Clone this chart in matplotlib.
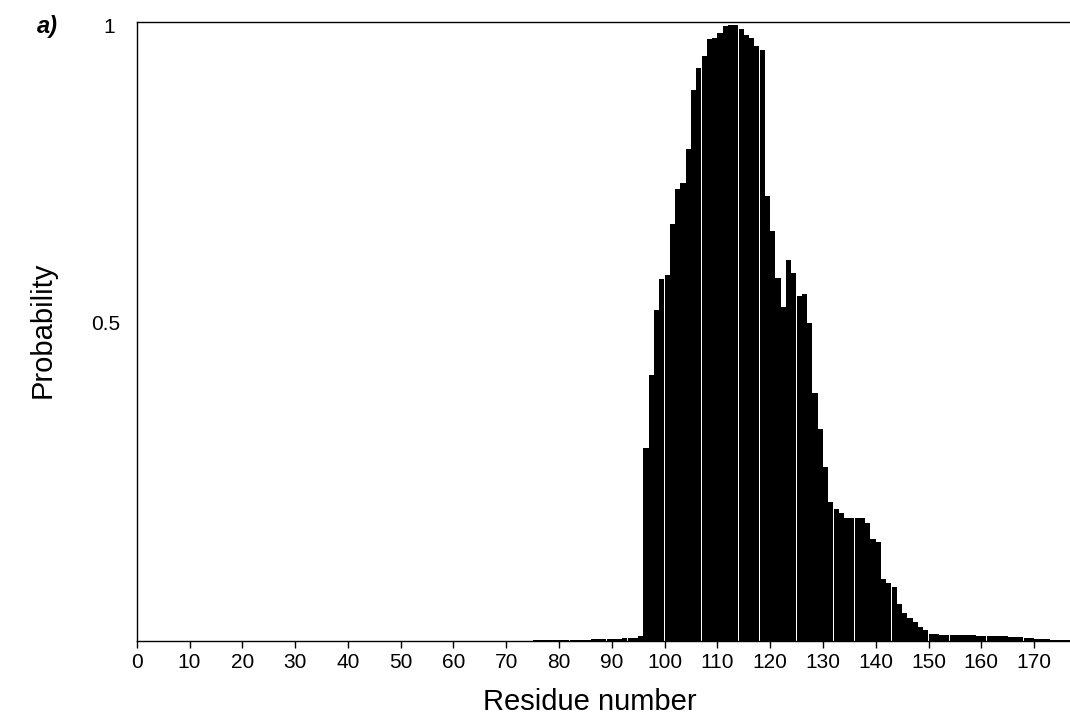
import matplotlib
matplotlib.use("Agg")
import matplotlib.pyplot as plt
from matplotlib.transforms import ScaledTranslation

plt.rcParams["font.family"] = ["Liberation Sans", "DejaVu Sans"]

# Per-residue probability (residues before 75 are zero)
residue = list(range(75, 177))
probability = [
    0.0008, 0.0008, 0.0008, 0.0008, 0.0008, 0.0008, 0.0008,          # 75-81
    0.0018, 0.0018, 0.0019, 0.0019, 0.002, 0.002, 0.0021, 0.0022, 0.0024,  # 82-90
    0.0035, 0.004, 0.0042, 0.005, 0.007,                              # 91-95
    0.311, 0.430, 0.534, 0.584, 0.591, 0.673, 0.729, 0.739, 0.794,    # 96-104
    0.890, 0.926, 0.945, 0.972, 0.973, 0.981, 0.993, 0.995, 0.995,    # 105-113
    0.988, 0.978, 0.973, 0.961, 0.954, 0.719, 0.662, 0.586, 0.539,    # 114-122
    0.615, 0.594, 0.557, 0.560, 0.513, 0.400, 0.342, 0.280, 0.224,    # 123-131
    0.212, 0.207, 0.198, 0.198, 0.198, 0.198, 0.190, 0.164, 0.159,    # 132-140
    0.099, 0.093, 0.086, 0.060, 0.044, 0.036, 0.030, 0.022, 0.017,    # 141-149
    0.011, 0.010, 0.0095, 0.0092, 0.009, 0.009, 0.0088, 0.0086,       # 150-157
    0.0085, 0.0083, 0.008, 0.0078, 0.0075, 0.0072, 0.007, 0.0065,     # 158-165
    0.006, 0.0055, 0.005, 0.0042, 0.0035, 0.0025, 0.002, 0.0012,      # 166-173
    0.001, 0.0008, 0.0005,                                            # 174-176
]

x_ticks = list(range(0, 180, 10))
y_ticks = [0.5, 1.0]
y_tick_labels = ["0.5", "1"]

fig = plt.figure(figsize=(10.70, 7.21), dpi=100)
ax = fig.add_axes([0.1278, 0.1114, 0.8722, 0.8585])

ax.bar(residue, probability, width=0.97, align="edge", color="black", linewidth=0)

ax.set_xlim(0, 176.8)
ax.set_ylim(0, 1.0)

ax.set_xticks(x_ticks)
ax.set_xticklabels([str(t) for t in x_ticks], fontsize=15)
ax.tick_params(axis="x", direction="out", length=5, width=1, pad=4)
ax.set_yticks(y_ticks)
ax.set_yticklabels(y_tick_labels, fontsize=15)
ax.tick_params(axis="y", length=0, pad=12)

# small nudges on the y tick labels (points)
nudges = [(0, 6), (-4, -3)]
for lab, (dx, dy) in zip(ax.get_yticklabels(), nudges):
    lab.set_transform(lab.get_transform() + ScaledTranslation(dx / 72, dy / 72, fig.dpi_scale_trans))

for side in ("left", "bottom", "top"):
    ax.spines[side].set_linewidth(1.0)
ax.spines["right"].set_visible(False)

ax.set_xlabel("Residue number", fontsize=21, va="center")
ax.xaxis.set_label_coords(0.486, -0.099)
ax.set_ylabel("Probability", fontsize=21, va="center")
ax.yaxis.set_label_coords(-0.1004, 0.502)

fig.text(0.0346, 0.9626, "a)", fontsize=17, fontweight="bold", fontstyle="italic",
         ha="left", va="center")

fig.savefig("out.png", dpi=100)
